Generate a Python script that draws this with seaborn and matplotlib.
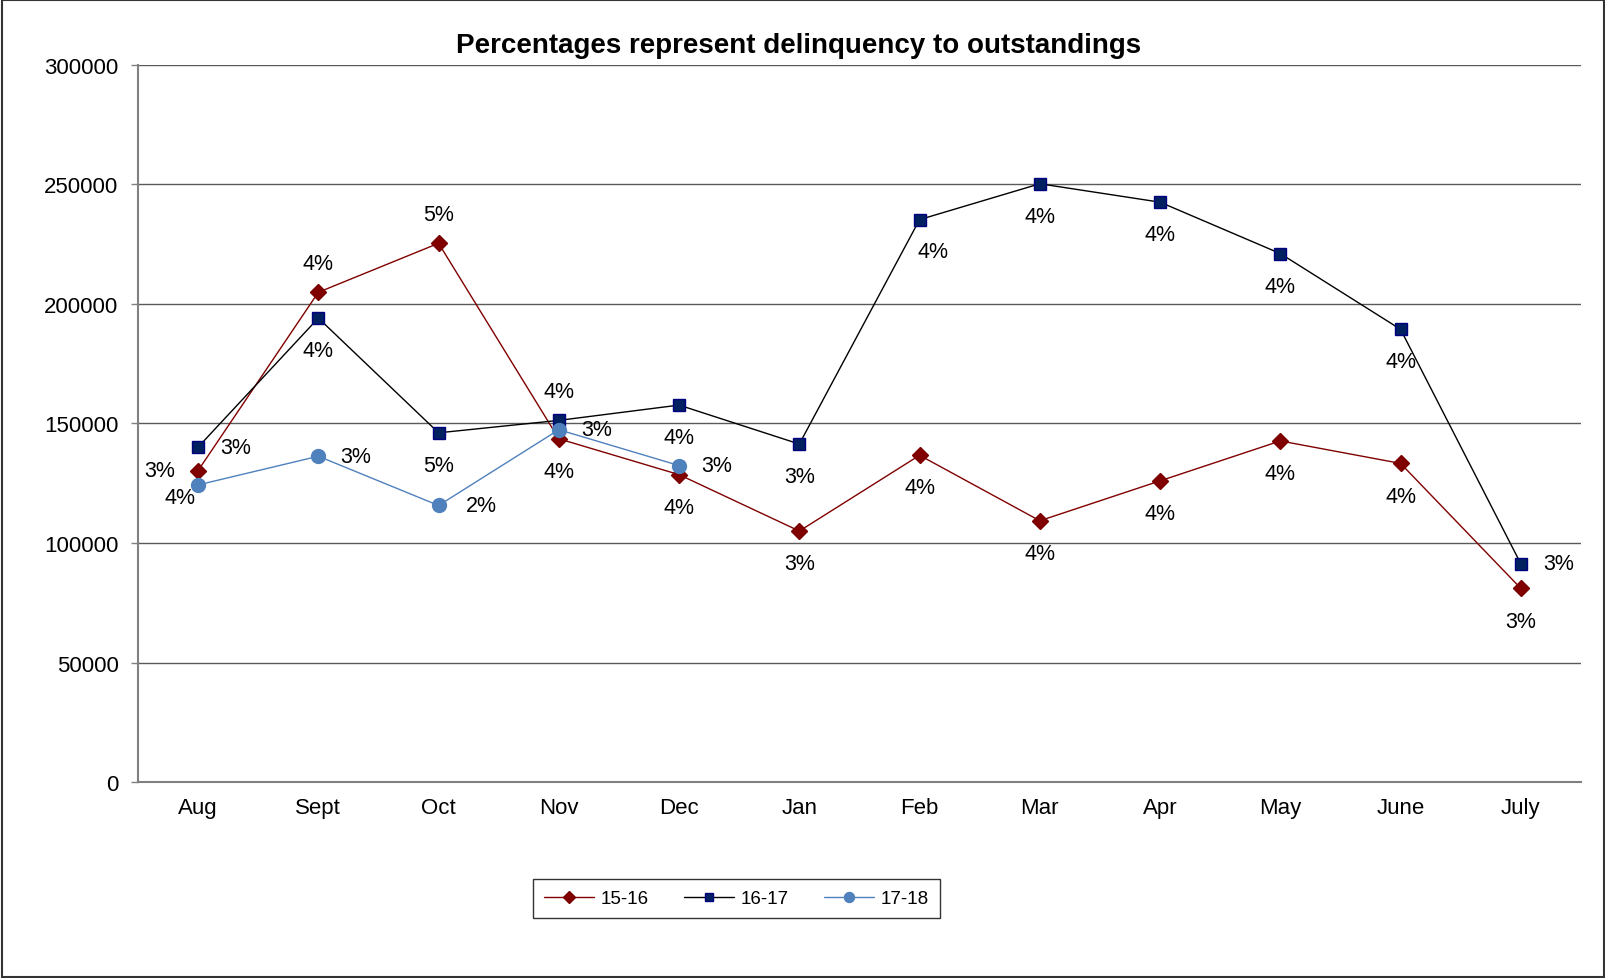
import numpy as np
import pandas as pd
import seaborn as sns
import matplotlib.pyplot as plt
from matplotlib.patches import Rectangle
from matplotlib.lines import Line2D

months = ["Aug", "Sept", "Oct", "Nov", "Dec", "Jan", "Feb", "Mar", "Apr", "May", "June", "July"]

s1516 = [130300, 204900, 225400, 143600, 128600, 105000, 136700, 109300, 126000, 142700, 133300, 81000]
s1617 = [140100, 194100, 146100, 151300, 157700, 141400, 235300, 250300, 242600, 221100, 189400, 91300]
s1718 = [124300, 136300, 115700, 147400, 132400]

pct1516 = ["3%", "4%", "5%", "4%", "4%", "3%", "4%", "4%", "4%", "4%", "4%", "3%"]
pct1617 = ["3%", "4%", "5%", "4%", "4%", "3%", "4%", "4%", "4%", "4%", "4%", "3%"]
pct1718 = ["4%", "3%", "2%", "3%", "3%"]

# label placement per point (offset in points)
L, R, A, B = (-28, 0), (27, 0), (0, 21), (0, -23.5)
pos1516 = [L, A, A, B, B, B, B, B, B, B, B, B]
pos1617 = [R, B, B, A, B, B, (10, -23), B, B, B, B, R]
pos1718 = [(-13, -9), R, (31, 0), R, R]

sns.set_theme(style="white")
plt.rcParams["font.family"] = ["Liberation Sans", "DejaVu Sans"]
plt.rcParams["text.color"] = "black"

fig = plt.figure(figsize=(16.06, 9.79), dpi=100)
ax = fig.add_axes([0.0859, 0.2002, 0.8985, 0.7324])

x_all = np.arange(len(months))
red, light = "#800000", "#4F81BD"

series = [
    ("15-16", s1516, pct1516, pos1516, red, "D", 8, red, "#7A0000"),
    ("16-17", s1617, pct1617, pos1617, "#000000", "s", 8, "#002060", "#000080"),
    ("17-18", s1718, pct1718, pos1718, light, "o", 10, light, light),
]

handles = []
for name, vals, pcts, poss, lc, mk, ms, mfc, mec in series:
    xs = x_all[:len(vals)]
    sns.lineplot(x=xs, y=vals, ax=ax, color=lc, linewidth=1.0, marker=mk,
                 markersize=ms, markerfacecolor=mfc, markeredgecolor=mec,
                 markeredgewidth=1, zorder=3)
    for xi, v, p, off in zip(xs, vals, pcts, poss):
        ax.annotate(p, (xi, v), xytext=off, textcoords="offset points",
                    ha="center", va="center", fontsize=15.5, color="black", zorder=4)
    handles.append(Line2D([], [], color=lc, lw=1.0, marker=mk, markersize=ms * 0.72,
                          markerfacecolor=mfc, markeredgecolor=mec, label=name))

ax.set_xlim(-0.5, len(months) - 0.5)
ax.set_ylim(0, 300000)
ax.set_yticks(np.arange(0, 300001, 50000))
ax.set_yticklabels([str(v) for v in range(0, 300001, 50000)], fontsize=16, color="black")
ax.set_xticks(x_all)
ax.set_xticklabels(months, fontsize=16, color="black")
ax.set_xticks(np.arange(-0.5, len(months), 1.0), minor=True)
ax.tick_params(axis="x", which="major", length=0, pad=11)
ax.tick_params(axis="x", which="minor", length=5, width=1, color="#808080", direction="out")
ax.tick_params(axis="y", which="major", length=5, width=1, color="#808080", direction="out", pad=9, left=True)
ax.grid(axis="y", color="#5a5a5a", linewidth=1)
ax.set_axisbelow(True)
for side in ["top", "right"]:
    ax.spines[side].set_visible(False)
for side in ["left", "bottom"]:
    ax.spines[side].set_color("#808080")
    ax.spines[side].set_linewidth(1.5)
ax.set_xlabel("")
ax.set_ylabel("")
ax.set_facecolor("white")

fig.text(0.497, 0.953, "Percentages represent delinquency to outstandings",
         ha="center", va="center", fontsize=20, fontweight="bold", color="black")

leg = fig.legend(handles=handles, loc="center", bbox_to_anchor=(0.4586, 0.0812),
                 ncol=3, frameon=True, fancybox=False, fontsize=13.5,
                 handlelength=2.7, columnspacing=1.85, borderpad=0.6, handletextpad=0.35,
                 borderaxespad=0)
leg.get_frame().set_edgecolor("black")
leg.get_frame().set_linewidth(1)
for t in leg.get_texts():
    t.set_color("black")

fig.patches.append(Rectangle((0.001, 0.001), 0.998, 0.998, transform=fig.transFigure,
                             fill=False, edgecolor="#333333", linewidth=1.5))

fig.savefig("out.png", dpi=100, facecolor="white")
